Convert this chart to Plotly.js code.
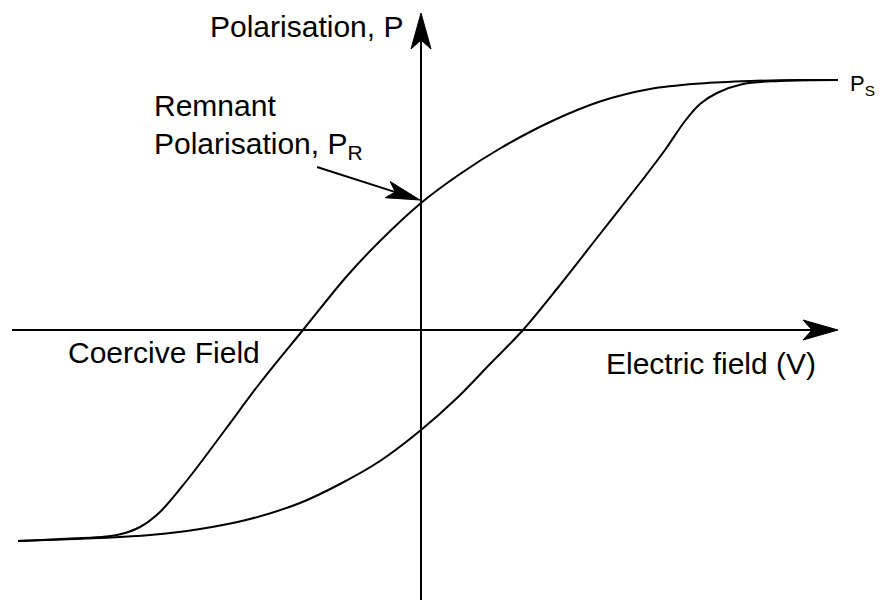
<!DOCTYPE html>
<html>
<head>
<meta charset="utf-8">
<script src="https://cdn.plot.ly/plotly-3.0.1.min.js"></script>
<style>
  html, body { margin: 0; padding: 0; background: #fff; }
  #chart { width: 882px; height: 600px; }
</style>
</head>
<body>
<div id="chart"></div>
<script>
// Ferroelectric hysteresis loop: polarisation P against applied electric field E.
// Field and polarisation are in arbitrary units (both axes share the same scale).

// Descending branch (from +saturation back to -saturation)
const upperE = [4.17, 3.79, 3.29, 2.79, 2.29, 1.79, 1.29, 0.79, 0.39, 0.00, -0.41, -0.74, -1.18, -1.61, -1.96, -2.33, -2.61, -2.81, -3.04, -3.61, -4.03];
const upperP = [2.50, 2.50, 2.49, 2.465, 2.41, 2.285, 2.08, 1.815, 1.56, 1.27, 0.89, 0.54, 0.00, -0.53, -1.00, -1.49, -1.82, -1.97, -2.05, -2.09, -2.11];

// Ascending branch (from -saturation up to +saturation)
const lowerE = [-4.03, -3.21, -2.71, -2.21, -1.71, -1.21, -0.81, -0.41, 0.00, 0.36, 0.69, 1.02, 1.39, 1.79, 2.19, 2.44, 2.64, 2.79, 2.96, 3.22, 3.59, 4.17];
const lowerP = [-2.11, -2.08, -2.05, -1.99, -1.89, -1.73, -1.54, -1.31, -1.00, -0.68, -0.34, 0.00, 0.45, 0.96, 1.47, 1.80, 2.09, 2.26, 2.37, 2.46, 2.49, 2.50];

// Characteristic values marked on the loop
const remnantP = 1.27;     // P_R : polarisation left at zero field
const saturationP = 2.50;  // P_S

// Extent of the drawn coordinate axes
const axisXMin = -4.09, axisXTip = 4.17;
const axisYMin = -2.80, axisYTip = 3.17;

// Visible window (equal units per pixel on both axes)
const xRange = [-4.21, 4.61];
const yRange = [-2.70, 3.30];

const FONT = '"Liberation Sans", Arial, Helvetica, sans-serif';
const INK = '#000';

// Notched arrowhead outline, tip at (tx, ty), pointing along (dx, dy)
function arrowHead(tx, ty, dx, dy, len, halfW, notch) {
  const n = Math.hypot(dx, dy);
  const ux = dx / n, uy = dy / n;
  const px = -uy, py = ux;
  const bx = tx - len * ux, by = ty - len * uy;
  const nx = bx + notch * ux, ny = by + notch * uy;
  const p = (x, y) => x.toFixed(4) + ',' + y.toFixed(4);
  return 'M' + p(tx, ty) +
         ' L' + p(bx + halfW * px, by + halfW * py) +
         ' L' + p(nx, ny) +
         ' L' + p(bx - halfW * px, by - halfW * py) + ' Z';
}

// Pointer to the remnant polarisation
const pointerTail = [-1.04, 1.63];
const pointerTip = [-0.01, remnantP + 0.03];
const pDir = [pointerTip[0] - pointerTail[0], pointerTip[1] - pointerTail[1]];
const pLen = Math.hypot(pDir[0], pDir[1]);
const pointerHead = { len: 0.34, halfW: 0.085, notch: 0.08 };
const pointerEnd = [
  pointerTip[0] - (pointerHead.len - pointerHead.notch - 0.01) * pDir[0] / pLen,
  pointerTip[1] - (pointerHead.len - pointerHead.notch - 0.01) * pDir[1] / pLen
];

const axisHead = { len: 0.35, halfW: 0.10, notch: 0.09 };

const lineStyle = { color: INK, width: 2, shape: 'spline', smoothing: 1 };
const straight = { color: INK, width: 2 };

const traces = [
  { x: [axisXMin, axisXTip - axisHead.len + axisHead.notch + 0.02], y: [0, 0],
    mode: 'lines', line: straight, hoverinfo: 'skip' },
  { x: [0, 0], y: [axisYMin, axisYTip - axisHead.len + axisHead.notch + 0.02],
    mode: 'lines', line: straight, hoverinfo: 'skip' },
  { x: upperE, y: upperP, mode: 'lines', line: lineStyle, hoverinfo: 'skip' },
  { x: lowerE, y: lowerP, mode: 'lines', line: lineStyle, hoverinfo: 'skip' },
  { x: [pointerTail[0], pointerEnd[0]], y: [pointerTail[1], pointerEnd[1]],
    mode: 'lines', line: straight, hoverinfo: 'skip' }
];

const headShape = (path) => ({
  type: 'path', xref: 'x', yref: 'y', path: path,
  fillcolor: INK, line: { color: INK, width: 1 }
});

const shapes = [
  headShape(arrowHead(axisXTip, 0, 1, 0, axisHead.len, axisHead.halfW, axisHead.notch)),
  headShape(arrowHead(0, axisYTip, 0, 1, axisHead.len + 0.01, axisHead.halfW, axisHead.notch)),
  headShape(arrowHead(pointerTip[0], pointerTip[1], pDir[0], pDir[1],
                      pointerHead.len, pointerHead.halfW, pointerHead.notch))
];

const label = (text, x, y, xanchor, size) => ({
  text: text, x: x, y: y, xref: 'x', yref: 'y',
  xanchor: xanchor, yanchor: 'middle', align: 'left', showarrow: false,
  font: { family: FONT, size: size || 30, color: INK }
});

const annotations = [
  label('Polarisation, P', -0.16, 3.04, 'right'),
  label('Remnant', -2.69, 2.25, 'left'),
  label('Polarisation, P<sub>R</sub>', -2.69, 1.85, 'left'),
  label('P<sub>S</sub>', 4.27, saturationP - 0.05, 'left', 22),
  label('Coercive Field', -3.55, -0.22, 'left'),
  label('Electric field (V)', 1.83, -0.33, 'left')
];

const hidden = { visible: false, fixedrange: true, showgrid: false, zeroline: false };

const layout = {
  width: 882, height: 600,
  margin: { l: 0, r: 0, t: 0, b: 0, pad: 0 },
  paper_bgcolor: '#fff', plot_bgcolor: '#fff',
  showlegend: false, hovermode: false,
  xaxis: Object.assign({ range: xRange }, hidden),
  yaxis: Object.assign({ range: yRange }, hidden),
  shapes: shapes,
  annotations: annotations
};

Plotly.newPlot('chart', traces, layout, { staticPlot: true, displayModeBar: false });
</script>
</body>
</html>
